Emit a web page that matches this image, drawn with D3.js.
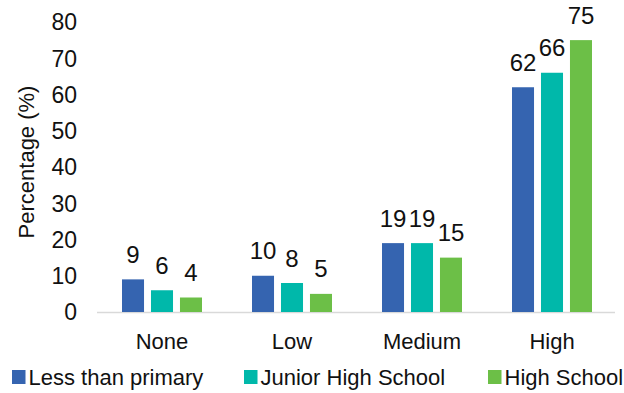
<!DOCTYPE html>
<html><head><meta charset="utf-8">
<script src="https://cdn.jsdelivr.net/npm/d3@7"></script>
<style>body{margin:0;background:#fff;} text{font-family:"Liberation Sans",Arial,sans-serif;fill:#111;}</style>
</head><body>
<svg id="c" width="624" height="393"></svg>
<script>
const categories = ["None","Low","Medium","High"];
const seriesNames = ["Less than primary","Junior High School","High School"];
const lessThanPrimary = [9,10,19,62];
const juniorHigh = [6,8,19,66];
const highSchool = [4,5,15,75];
const yTicks = [0,10,20,30,40,50,60,70,80];
const colors = ["#3564b0","#00b8aa","#6cbf47"];
const values = [lessThanPrimary, juniorHigh, highSchool];

const svg = d3.select("#c");
const x = d3.scaleBand().domain(categories).range([97,617]).paddingInner(0).paddingOuter(0);
const xs = d3.scaleBand().domain(seriesNames).range([25,105]).paddingInner(0.24);
const y = d3.scaleLinear().domain([0,80]).range([312,22]);

// y tick labels
svg.append("g").selectAll("text").data(yTicks).join("text")
  .attr("x",77).attr("y",d=>y(d)).attr("dy","0.36em").attr("text-anchor","end")
  .attr("font-size",23).text(d=>d);

// axis line
svg.append("line").attr("x1",97).attr("x2",615).attr("y1",y(0)+0.5).attr("y2",y(0)+0.5)
  .attr("stroke","#d9d9d9").attr("stroke-width",1.5);

// bars
seriesNames.forEach((s,i)=>{
  const g = svg.append("g");
  g.selectAll("rect").data(values[i]).join("rect")
    .attr("x",(d,j)=>x(categories[j])+xs(s))
    .attr("width",xs.bandwidth())
    .attr("y",d=>y(d)).attr("height",d=>y(0)-y(d))
    .attr("fill",colors[i]);
  g.selectAll("text").data(values[i]).join("text")
    .attr("x",(d,j)=>x(categories[j])+xs(s)+xs.bandwidth()/2)
    .attr("y",d=>y(d)-16.5).attr("text-anchor","middle")
    .attr("font-size",24).text(d=>d);
});

// category labels
svg.append("g").selectAll("text").data(categories).join("text")
  .attr("x",d=>x(d)+x.bandwidth()/2).attr("y",349).attr("text-anchor","middle")
  .attr("font-size",22).text(d=>d);

// y title
svg.append("text").attr("transform","translate(34,162) rotate(-90)")
  .attr("text-anchor","middle").attr("font-size",22).text("Percentage (%)");

// legend
const legX = [12,244,488];
const lg = svg.append("g").selectAll("g").data(seriesNames).join("g")
  .attr("transform",(d,i)=>`translate(${legX[i]},370)`);
lg.append("rect").attr("width",13.5).attr("height",14).attr("fill",(d,i)=>colors[i]);
lg.append("text").attr("x",16.5).attr("y",15).attr("font-size",22).text(d=>d);
</script>
</body></html>
